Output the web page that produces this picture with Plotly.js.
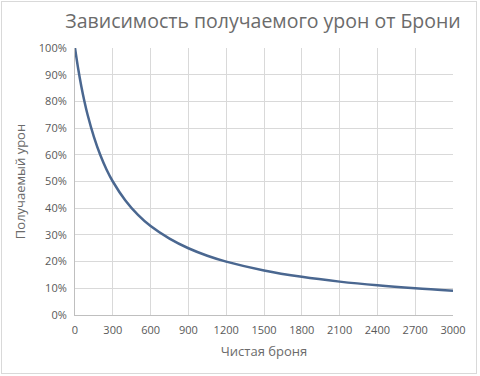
<!DOCTYPE html>
<html><head><meta charset="utf-8">
<script src="https://cdn.plot.ly/plotly-3.0.1.min.js"></script>
<style>html,body{margin:0;padding:0;background:#fff}#wrap{position:relative;width:480px;height:376px}#c{width:480px;height:376px}
#frame{position:absolute;left:1px;top:1px;width:476px;height:373px;border:1px solid #d9d9d9;pointer-events:none;box-sizing:border-box}</style>
</head><body><div id="wrap"><div id="c"></div><div id="frame"></div></div>
<script>
const armor = [0, 25, 50, 75, 100, 150, 200, 250, 300, 400, 500, 600, 750, 900, 1050, 1200, 1500, 1800, 2100, 2400, 2700, 3000];
const damage = [1.00, 0.923, 0.857, 0.80, 0.75, 0.667, 0.60, 0.545, 0.50, 0.429, 0.375, 0.333, 0.286, 0.25, 0.222, 0.20, 0.167, 0.143, 0.125, 0.111, 0.10, 0.091];
const xTicks = [0, 300, 600, 900, 1200, 1500, 1800, 2100, 2400, 2700, 3000];
const yTicks = [0, 0.1, 0.2, 0.3, 0.4, 0.5, 0.6, 0.7, 0.8, 0.9, 1.0];
const yTickText = ["0%", "10%", "20%", "30%", "40%", "50%", "60%", "70%", "80%", "90%", "100%"];

const font = "Open Sans, Liberation Sans, sans-serif";
Plotly.newPlot('c', [{
  x: armor, y: damage, type: 'scatter', mode: 'lines',
  line: {color: '#4a6790', width: 2.5, shape: 'spline', smoothing: 1},
  hoverinfo: 'skip'
}], {
  width: 480, height: 376,
  margin: {l: 75, r: 27, t: 48, b: 61},
  paper_bgcolor: '#fff', plot_bgcolor: '#fff',
  showlegend: false,
  font: {family: font, color: '#595959', size: 11},
  title: {text: 'Зависимость получаемого урон от Брони', font: {family: font, size: 19.5, color: '#6b6b6b'}, x: 0.548, xanchor: 'center', y: 0.945, yanchor: 'middle'},
  xaxis: {
    range: [0, 3000], tickvals: xTicks, ticktext: xTicks.map(String), tickmode: 'array',
    showgrid: true, gridcolor: '#d9d9d9', gridwidth: 1,
    showline: true, linecolor: '#bfbfbf', linewidth: 1, zeroline: false,
    ticks: 'outside', ticklen: 5, tickcolor: 'rgba(0,0,0,0)', tickfont: {size: 11, color: '#595959'},
    title: {text: 'Чистая броня', font: {size: 13, color: '#6b6b6b'}, standoff: 10}
  },
  yaxis: {
    range: [0, 1], tickvals: yTicks, ticktext: yTickText, tickmode: 'array',
    showgrid: true, gridcolor: '#d9d9d9', gridwidth: 1,
    showline: true, linecolor: '#bfbfbf', linewidth: 1, zeroline: false,
    ticks: 'outside', ticklen: 5, tickcolor: 'rgba(0,0,0,0)', tickfont: {size: 11, color: '#595959'},
    title: {text: 'Получаемый урон', font: {size: 13, color: '#6b6b6b'}, standoff: 10}
  }
}, {staticPlot: true});
</script></body></html>
